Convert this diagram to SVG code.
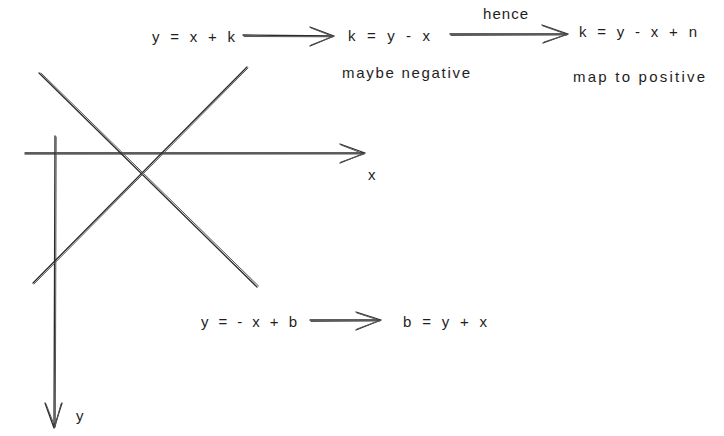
<svg xmlns="http://www.w3.org/2000/svg" width="724" height="436" viewBox="0 0 724 436">
<style>
text{font-family:"Liberation Sans","DejaVu Sans",sans-serif;font-size:15px;fill:#1e1e1e}
.s{fill:none;stroke:#2a2a2a;stroke-width:1.3;stroke-linecap:round;stroke-linejoin:round}
.t{fill:none;stroke:#555;stroke-width:1;stroke-linecap:round}
</style>
<rect width="724" height="436" fill="#ffffff"/>
<g id="plot">
  <path class="s" d="M25 153 L365 153 M340 144 L365 153 L340 163"/>
  <path class="t" d="M25 154.2 L364 154 M341 145 L364 154 L341 162"/>
  <path class="s" d="M55 136 L54 428 M45 403 L54 428 L62 403"/>
  <path class="t" d="M56.2 137 L55.3 427 M46 404 L55 427 L61 404"/>
  <path class="s" d="M39 73 L257 287"/>
  <path class="t" d="M41 73 L258.5 286"/>
  <path class="s" d="M247 67 L33 283"/>
  <path class="t" d="M248 68 L34 284"/>
</g>
<g id="connectors">
  <path class="s" d="M243 35 L334 36 M310 27 L334 36 L310 46"/>
  <path class="t" d="M244 36.5 L333 36.8 M311 28 L333 36.5 L311 45"/>
  <path class="s" d="M450 34 L568 34 M542 25 L568 34 L543 43"/>
  <path class="t" d="M451 35.5 L567 35 M543 26 L567 34.5 L544 42"/>
  <path class="s" d="M310 320 L381 320 M356 312 L381 320 L356 330"/>
  <path class="t" d="M311 321.5 L380 321 M357 313 L380 320.5 L357 329"/>
</g>
<g id="n-eq1"><text x="152" y="42" textLength="83" lengthAdjust="spacing">y = x + k</text></g>
<g id="n-eq2"><text x="348" y="41" textLength="82" lengthAdjust="spacing">k = y - x</text></g>
<g id="n-maybe"><text x="342" y="78" textLength="128" lengthAdjust="spacing">maybe negative</text></g>
<g id="n-hence"><text x="483" y="19" textLength="45" lengthAdjust="spacing">hence</text></g>
<g id="n-eq3"><text x="579" y="37" textLength="118" lengthAdjust="spacing">k = y - x + n</text></g>
<g id="n-map"><text x="573" y="82" textLength="132" lengthAdjust="spacing">map to positive</text></g>
<g id="n-xlabel"><text x="368" y="180">x</text></g>
<g id="n-ylabel"><text x="76" y="421">y</text></g>
<g id="n-eq4"><text x="201" y="327" textLength="96" lengthAdjust="spacing">y = - x + b</text></g>
<g id="n-eq5"><text x="403" y="327" textLength="84" lengthAdjust="spacing">b = y + x</text></g>
</svg>
